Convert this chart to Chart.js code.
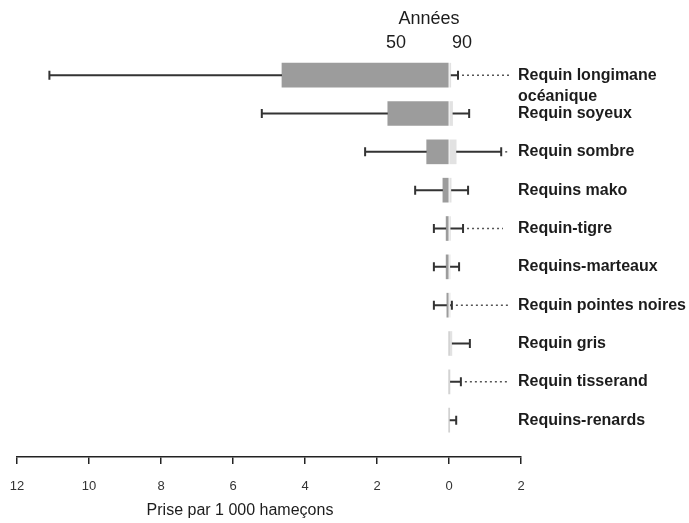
<!DOCTYPE html>
<html>
<head>
<meta charset="utf-8">
<script src="https://cdn.jsdelivr.net/npm/chart.js@4"></script>
<style>
  html, body { margin: 0; padding: 0; background: #fff; }
  #wrap { width: 689px; height: 523px; }
</style>
</head>
<body>
<div id="wrap"><canvas id="myChart"></canvas></div>
<script>
// species, top to bottom
const species = [
    ["Requin longimane", "océanique"],
    ["Requin soyeux"],
    ["Requin sombre"],
    ["Requins mako"],
    ["Requin-tigre"],
    ["Requins-marteaux"],
    ["Requin pointes noires"],
    ["Requin gris"],
    ["Requin tisserand"],
    ["Requins-renards"],
];

// catch per 1000 hooks, 1950s (drawn to the left of 0)
const catch50 = [4.64, 1.7, 0.62, 0.17, 0.08, 0.08, 0.06, 0, 0, 0];
const upper50 = [11.1, 5.2, 2.33, 0.94, 0.42, 0.42, 0.42, null, null, null];

// catch per 1000 hooks, 1990s (drawn to the right of 0)
const catch90 = [0.05, 0.1, 0.2, 0.06, 0.04, 0.03, 0.03, 0.08, 0.03, 0.02];
const upper90 = [0.25, 0.56, 1.45, 0.53, 0.39, 0.28, 0.08, 0.58, 0.33, 0.2];
const dotted90 = [1.67, null, 1.62, null, 1.5, null, 1.64, null, 1.64, null];

const xTicks = [12, 10, 8, 6, 4, 2, 0, -2];

const bars50 = catch50.map((v, i) => ({ x: [0, v], y: i }));
const bars90 = catch90.map((v, i) => ({ x: [0, -v], y: i }));

const data = {
    datasets: [
        {
            label: "Années 50",
            data: bars50,
            backgroundColor: "#9c9c9c",
            borderWidth: 0,
            barThickness: 24,
            grouped: false,
        },
        {
            label: "Années 90",
            data: bars90,
            backgroundColor: "#e2e2e2",
            borderWidth: 0,
            barThickness: 24,
            grouped: false,
        },
    ],
};

// whiskers, dotted extensions and all the text around the plot
const decorations = {
    id: "decorations",
    afterDatasetsDraw(chart) {
        const { ctx, scales: { x, y } } = chart;
        const cap = 4.5;

        function whisker(from, to, py) {
            const x1 = x.getPixelForValue(from);
            const x2 = x.getPixelForValue(to);
            ctx.beginPath();
            ctx.moveTo(x1, py);
            ctx.lineTo(x2, py);
            ctx.moveTo(x2, py - cap);
            ctx.lineTo(x2, py + cap);
            ctx.stroke();
        }

        ctx.save();
        ctx.strokeStyle = "#333";
        ctx.lineWidth = 2;
        for (let i = 0; i < species.length; i++) {
            const py = y.getPixelForValue(i);
            if (upper50[i] !== null) whisker(catch50[i], upper50[i], py);
            if (upper90[i] !== null) whisker(-catch90[i], -upper90[i], py);
        }

        ctx.setLineDash([2, 3]);
        ctx.lineWidth = 1.5;
        ctx.strokeStyle = "#555";
        for (let i = 0; i < species.length; i++) {
            if (dotted90[i] === null) continue;
            const py = y.getPixelForValue(i);
            ctx.beginPath();
            ctx.moveTo(x.getPixelForValue(-upper90[i]) + 4, py);
            ctx.lineTo(x.getPixelForValue(-dotted90[i]), py);
            ctx.stroke();
        }
        ctx.setLineDash([]);

        // species names
        ctx.fillStyle = "#1c1c1c";
        ctx.font = "bold 16px 'Liberation Sans', Arial, sans-serif";
        ctx.textAlign = "left";
        ctx.textBaseline = "middle";
        species.forEach((lines, i) => {
            const py = y.getPixelForValue(i);
            lines.forEach((t, k) => ctx.fillText(t, 518, py + k * 21));
        });

        // period headers
        const zero = x.getPixelForValue(0);
        ctx.font = "18px 'Liberation Sans', Arial, sans-serif";
        ctx.textAlign = "center";
        ctx.fillText("Années", zero - 20, 19);
        ctx.fillText("50", zero - 53, 43);
        ctx.fillText("90", zero + 13, 43);

        // axis title
        ctx.font = "16px 'Liberation Sans', Arial, sans-serif";
        ctx.fillText("Prise par 1 000 hameçons", 240, 511);
        ctx.restore();
    },
};

const config = {
    type: "bar",
    data,
    options: {
        indexAxis: "y",
        responsive: true,
        maintainAspectRatio: false,
        animation: false,
        layout: {
            padding: { left: 17, right: 168, top: 56, bottom: 0 },
        },
        plugins: {
            legend: { display: false },
            tooltip: { enabled: false },
        },
        scales: {
            y: {
                type: "linear",
                reverse: true,
                offset: false,
                min: -0.5,
                max: 9.96,
                display: false,
            },
            x: {
                type: "linear",
                reverse: true,
                min: -2,
                max: 12,
                afterBuildTicks(scale) {
                    scale.ticks = xTicks.map((v) => ({ value: v }));
                },
                afterFit(scale) {
                    scale.height = 66;
                    scale.paddingLeft = 0;
                    scale.paddingRight = 0;
                },
                ticks: {
                    callback: (v) => Math.abs(v),
                    color: "#333",
                    padding: 15,
                    maxRotation: 0,
                    font: { family: "'Liberation Sans', Arial, sans-serif", size: 13 },
                },
                grid: {
                    drawOnChartArea: false,
                    drawTicks: true,
                    tickLength: 7,
                    color: "#222",
                    lineWidth: 1.5,
                },
                border: { display: true, color: "#222", width: 1.5 },
            },
        },
    },
    plugins: [decorations],
};

const myChart = new Chart(document.getElementById("myChart"), config);
</script>
</body>
</html>
